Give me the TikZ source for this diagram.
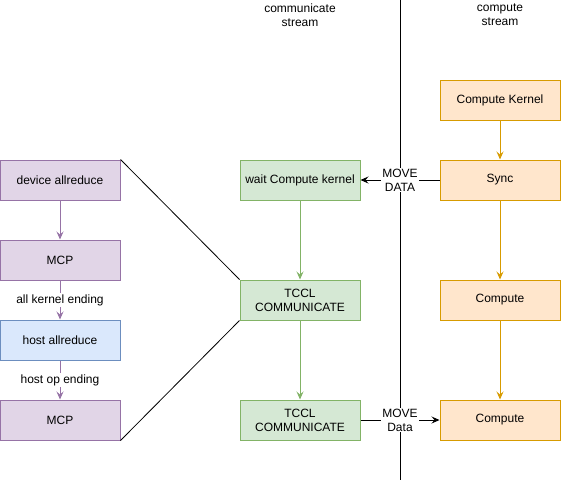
\documentclass[tikz,border=0pt]{standalone}
\usepackage{fontspec}
\setmainfont{Liberation Sans}
\usetikzlibrary{arrows.meta}
\definecolor{pfill}{HTML}{E1D5E7}\definecolor{pline}{HTML}{9673A6}
\definecolor{bfill}{HTML}{DAE8FC}\definecolor{bline}{HTML}{6C8EBF}
\definecolor{gfill}{HTML}{D5E8D4}\definecolor{gline}{HTML}{82B366}
\definecolor{ofill}{HTML}{FFE6CC}\definecolor{oline}{HTML}{D79B00}
\begin{document}
\begin{tikzpicture}[x=1pt,y=-1pt,
  every node/.style={font=\fontsize{12}{14}\selectfont, align=center, text=black},
  box/.style={draw, line width=1pt, minimum width=120pt, minimum height=40pt, inner sep=0pt},
  pbox/.style={box, fill=pfill, draw=pline},
  bbox/.style={box, fill=bfill, draw=bline},
  gbox/.style={box, fill=gfill, draw=gline},
  obox/.style={box, fill=ofill, draw=oline},
  arr/.style={line width=1pt, -{Stealth[length=8pt,width=7pt,inset=3pt]}},
  lbl/.style={fill=white, inner sep=1pt, text=black}]
\useasboundingbox (0,0) rectangle (561,482);
% vertical separator
\coordinate (vt) at (400.5,0);
\coordinate (vb) at (400.5,480);
\draw[line width=1pt] (vt) -- (vb);
% stream labels
\node (cs) at (300,15) {communicate\\stream};
\node (ps) at (500,15) {compute\\stream};
% left column
\node[pbox] (da) at (60,180) {device allreduce};
\node[pbox] (m1) at (60,260) {MCP};
\node[bbox] (ha) at (60,340) {host allreduce};
\node[pbox] (m2) at (60,420) {MCP};
% middle column
\node[gbox] (wk) at (300,180) {wait Compute kernel};
\node[gbox] (t1) at (300,300) {TCCL\\COMMUNICATE};
\node[gbox] (t2) at (300,420) {TCCL\\COMMUNICATE};
% right column
\node[obox] (ck) at (500,100) {Compute Kernel};
\node[obox] (sy) at (500,180) {Sync};
\node[obox] (c1) at (500,300) {Compute};
\node[obox] (c2) at (500,420) {Compute};
% purple arrows
\draw[arr, pline] (da) -- (m1);
\draw[arr, pline] (m1) -- node[lbl] {all kernel ending} (ha);
\draw[arr, pline] (ha) -- node[lbl] {host op ending} (m2);
% green arrows
\draw[arr, gline] (wk) -- (t1);
\draw[arr, gline] (t1) -- (t2);
% orange arrows
\draw[arr, oline] (ck) -- (sy);
\draw[arr, oline] (sy) -- (c1);
\draw[arr, oline] (c1) -- (c2);
% black connectors
\draw[arr, black] (sy) -- node[lbl, pos=0.5] {MOVE\\DATA} (wk);
\draw[arr, black] (t2) -- node[lbl, pos=0.5] {MOVE\\Data} (c2);
\draw[line width=0.8pt] (da.north east) -- (t1.north west);
\draw[line width=0.8pt] (m2.south east) -- (t1.south west);
\end{tikzpicture}
\end{document}
